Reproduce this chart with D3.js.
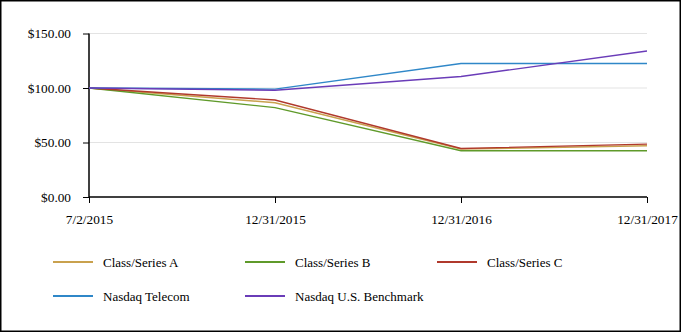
<!DOCTYPE html>
<html><head><meta charset="utf-8">
<script src="https://cdn.jsdelivr.net/npm/d3@7"></script>
<style>body{margin:0;background:#fff}svg{display:block}</style>
</head><body>
<svg id="c" width="682" height="333"></svg>
<script>
const dates = ["7/2/2015", "12/31/2015", "12/31/2016", "12/31/2017"];
const seriesNames = ["Class/Series A", "Class/Series B", "Class/Series C", "Nasdaq Telecom", "Nasdaq U.S. Benchmark"];
const classA = [100, 86.5, 44, 47];
const classB = [100, 82, 42.5, 42.5];
const classC = [100, 89, 44.5, 48.5];
const telecom = [100, 99, 122.5, 122.5];
const benchmark = [100, 98, 110.5, 134];
const yTicks = [0, 50, 100, 150];
const colors = ["#c9a14e", "#5f9a2a", "#b0392c", "#2f87c8", "#6a3cb8"];

const allSeries = [classA, classB, classC, telecom, benchmark];
const svg = d3.select("#c");
const font = "'Liberation Serif','Times New Roman',serif";

svg.append("rect").attr("x", 0.75).attr("y", 0.75).attr("width", 679.5).attr("height", 330.5)
  .attr("fill", "none").attr("stroke", "#000").attr("stroke-width", 1.5);

const x = d3.scalePoint().domain(dates).range([89, 647]);
const y = d3.scaleLinear().domain([0, 150]).range([197, 33.5]);

// gridlines
svg.append("g").selectAll("line").data(yTicks.filter(d => d > 0)).join("line")
  .attr("x1", 89).attr("x2", 647).attr("y1", d => y(d)).attr("y2", d => y(d))
  .attr("stroke", "#e3e3e3").attr("stroke-width", 1);

// y axis
const yAxis = svg.append("g").attr("transform", "translate(89,0)")
  .call(d3.axisLeft(y).tickValues(yTicks).tickSize(6).tickPadding(12).tickFormat(d => "$" + d3.format(".2f")(d)));
yAxis.select(".domain").attr("stroke", "#000").attr("stroke-width", 1.5).attr("d", `M0,${y(150)}V${y(0)}`);
yAxis.selectAll(".tick line").attr("stroke", "#000").attr("stroke-width", 1);
yAxis.selectAll("text").attr("font-family", font).attr("font-size", 13.3).attr("fill", "#000");

// x axis
const xAxis = svg.append("g").attr("transform", `translate(0,${y(0)})`)
  .call(d3.axisBottom(x).tickSize(6).tickPadding(12).tickSizeOuter(0));
xAxis.select(".domain").attr("stroke", "#000").attr("stroke-width", 1.5).attr("d", `M89,0H647`);
xAxis.selectAll(".tick line").attr("stroke", "#000").attr("stroke-width", 1);
xAxis.selectAll("text").attr("font-family", font).attr("font-size", 13.3).attr("fill", "#000");

// lines
const line = d3.line().x((d, i) => x(dates[i])).y(d => y(d));
svg.append("g").selectAll("path").data(allSeries).join("path")
  .attr("d", d => line(d)).attr("fill", "none")
  .attr("stroke", (d, i) => colors[i]).attr("stroke-width", 1.4);

// legend
const legendPos = [[53, 262], [245, 262], [437, 262], [53, 296], [245, 296]];
const lg = svg.append("g").selectAll("g").data(seriesNames).join("g")
  .attr("transform", (d, i) => `translate(${legendPos[i][0]},${legendPos[i][1]})`);
lg.append("line").attr("x1", 0).attr("x2", 40).attr("y1", 0).attr("y2", 0)
  .attr("stroke", (d, i) => colors[i]).attr("stroke-width", 2);
lg.append("text").attr("x", 50).attr("y", 4.5).text(d => d)
  .attr("font-family", font).attr("font-size", 13).attr("fill", "#000");
</script>
</body></html>
